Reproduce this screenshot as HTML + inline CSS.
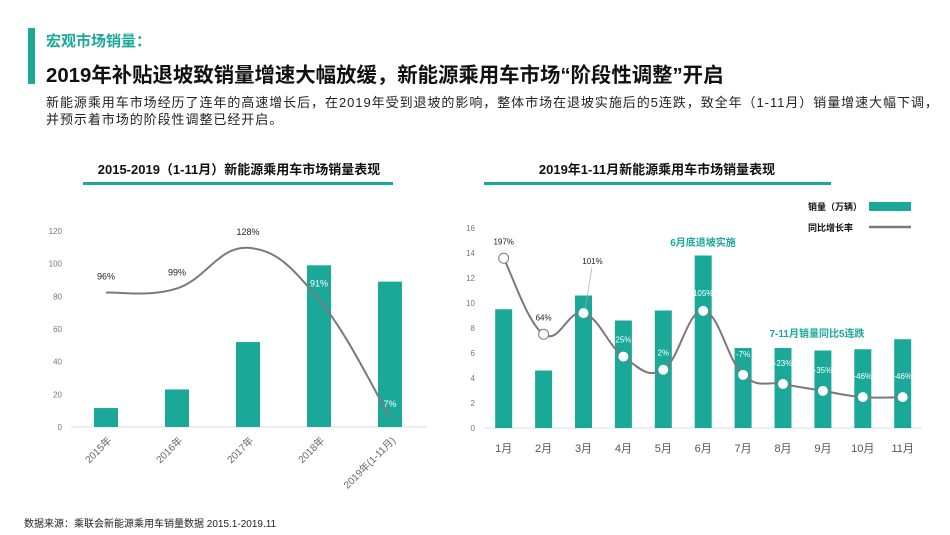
<!DOCTYPE html>
<html><head><meta charset="utf-8">
<style>
body{margin:0;width:950px;height:535px;background:#fff;font-family:"Liberation Sans","Noto Sans CJK SC",sans-serif;position:relative;overflow:hidden}
.abs{position:absolute;white-space:nowrap}
</style></head><body>
<div class="abs" style="left:28px;top:28px;width:7px;height:56px;background:#1aa898"></div>
<div class="abs" style="left:46px;top:30px;font-size:15px;font-weight:bold;color:#1aa898">宏观市场销量：</div>
<div class="abs" style="left:46px;top:58px;font-size:20.4px;font-weight:bold;color:#111">2019年补贴退坡致销量增速大幅放缓，新能源乘用车市场“阶段性调整”开启</div>
<div class="abs" style="left:46px;top:94px;font-size:13px;letter-spacing:0.95px;line-height:17px;color:#222">新能源乘用车市场经历了连年的高速增长后，在2019年受到退坡的影响，整体市场在退坡实施后的5连跌，致全年（1-11月）销量增速大幅下调，<br>并预示着市场的阶段性调整已经开启。</div>
<div class="abs" style="left:24px;top:515px;font-size:10px;color:#222">数据来源：乘联会新能源乘用车销量数据 2015.1-2019.11</div>

<svg id="c" width="950" height="535" style="position:absolute;left:0;top:0"></svg>
<script>
const yearCats=["2015年","2016年","2017年","2018年","2019年(1-11月)"];
const yearSales=[11.6,23,52,99,89];
const yearGrowth=[96,99,128,91,7];
const yearGrowthLabels=["96%","99%","128%","91%","7%"];
const leftTicks=[0,20,40,60,80,100,120];

const monthCats=["1月","2月","3月","4月","5月","6月","7月","8月","9月","10月","11月"];
const monthSales=[9.5,4.6,10.6,8.6,9.4,13.8,6.4,6.4,6.2,6.3,7.1];
const monthGrowth=[197,64,101,25,2,105,-7,-23,-35,-46,-46];
const monthGrowthLabels=["197%","64%","101%","25%","2%","105%","-7%","-23%","-35%","-46%","-46%"];
const rightTicks=[0,2,4,6,8,10,12,14,16];

const svg=document.getElementById('c');const NS="http://www.w3.org/2000/svg";
function mk(t,a,name,txt){const e=document.createElementNS(NS,t);for(const k in a)e.setAttribute(k,a[k]);


if(txt!==undefined)e.textContent=txt;svg.appendChild(e);return e;}
const TEAL="#1aa898",GREY="#7a7a7a";
function smooth(pts){let d="M"+pts[0][0]+","+pts[0][1];for(let i=0;i<pts.length-1;i++){const p0=pts[i-1]||pts[i],p1=pts[i],p2=pts[i+1],p3=pts[i+2]||p2;const t=0.2;
d+=" C"+(p1[0]+(p2[0]-p0[0])*t)+","+(p1[1]+(p2[1]-p0[1])*t)+" "+(p2[0]-(p3[0]-p1[0])*t)+","+(p2[1]-(p3[1]-p1[1])*t)+" "+p2[0]+","+p2[1];}return d;}

mk('text',{x:239,y:174,'font-size':13,'font-weight':'bold','text-anchor':'middle',fill:'#111'},'left-chart-title',"2015-2019（1-11月）新能源乘用车市场销量表现");
mk('rect',{x:83,y:182,width:310,height:3,fill:TEAL},'left-title-underline');
mk('text',{x:657,y:174,'font-size':13,'font-weight':'bold','text-anchor':'middle',fill:'#111'},'right-chart-title',"2019年1-11月新能源乘用车市场销量表现");
mk('rect',{x:484,y:182,width:347,height:3,fill:TEAL},'right-title-underline');

const Ly0=427,Lh=196;
const ly=v=>Ly0-v/120*Lh, lg=r=>Ly0-r/140*Lh, lx=i=>106+i*71;
leftTicks.forEach(t=>mk('text',{x:62,y:ly(t)+3,'font-size':8,fill:'#777','text-anchor':'end'},'left-y-tick',t));
mk('line',{x1:71,x2:427,y1:Ly0,y2:Ly0,stroke:'#ddd'},'left-x-axis');
yearSales.forEach((v,i)=>mk('rect',{x:lx(i)-12,y:ly(v),width:24,height:Ly0-ly(v),fill:TEAL},'bar-'+i));
yearCats.forEach((c,i)=>mk('text',{x:lx(i)+6,y:Ly0+14,'font-size':10,fill:'#666','text-anchor':'end',transform:`rotate(-45 ${lx(i)+6} ${Ly0+14})`},'left-x-label',c));
mk('path',{d:smooth(yearGrowth.map((r,i)=>[lx(i),lg(r)])),fill:'none',stroke:GREY,'stroke-width':2},'left-growth-line');
yearGrowth.forEach((r,i)=>{const inBar=i>=3;mk('text',{x:lx(i),y:lg(r)+(i==4?-10:-13),'font-size':9,'text-anchor':'middle',fill:inBar?'#fff':'#222'},'left-growth-label',yearGrowthLabels[i]);});

const Ry0=428,Rh=200;
const ry=v=>Ry0-v/16*Rh, rg=r=>Ry0-(r+100)/350*Rh, rx=i=>503.7+i*39.9;
rightTicks.forEach(t=>mk('text',{x:475,y:ry(t)+3,'font-size':8,fill:'#777','text-anchor':'end'},'right-y-tick',t));
mk('line',{x1:484,x2:922,y1:Ry0,y2:Ry0,stroke:'#ddd'},'right-x-axis');
monthSales.forEach((v,i)=>mk('rect',{x:rx(i)-8.5,y:ry(v),width:17,height:Ry0-ry(v),fill:TEAL},'month-bar-'+i));
monthCats.forEach((c,i)=>mk('text',{x:rx(i),y:Ry0+24,'font-size':11,fill:'#555','text-anchor':'middle'},'right-x-label',c));
mk('path',{d:smooth(monthGrowth.map((r,i)=>[rx(i),rg(r)])),fill:'none',stroke:GREY,'stroke-width':2},'right-growth-line');
mk('line',{x1:592,y1:267,x2:585,y2:310,stroke:'#aaa','stroke-width':0.7},'label-leader');
monthGrowth.forEach((r,i)=>{
 mk('circle',{cx:rx(i),cy:rg(r),r:5,fill:'#fff',stroke:i<2?GREY:'none','stroke-width':1},'growth-point-'+i);
 let dy=-14,col='#fff',dx=0;
 if(i==0){dy=-14;col='#222';} if(i==1){dy=-14;col='#222';} if(i==2){dy=-49;col='#222';dx=9;}
 if(i==5)dy=-15;
 if(i>=6){dy=-18;}
 mk('text',{x:rx(i)+dx,y:rg(r)+dy,'font-size':8,'text-anchor':'middle',fill:col},'growth-label-'+i,monthGrowthLabels[i]);
});
mk('text',{x:703,y:246,'font-size':10,'font-weight':'bold','text-anchor':'middle',fill:TEAL},'annotation-subsidy',"6月底退坡实施");
mk('text',{x:817,y:337,'font-size':10,'font-weight':'bold','text-anchor':'middle',fill:TEAL},'annotation-decline',"7-11月销量同比5连跌");
mk('text',{x:808,y:210,'font-size':9,'font-weight':'bold',fill:'#111'},'legend-sales-label',"销量（万辆）");
mk('rect',{x:869,y:202,width:42,height:9,fill:TEAL},'legend-sales-swatch');
mk('text',{x:808,y:231,'font-size':9,'font-weight':'bold',fill:'#111'},'legend-growth-label',"同比增长率");
mk('line',{x1:869,x2:911,y1:227,y2:227,stroke:GREY,'stroke-width':2.5},'legend-growth-swatch');
</script>
</body></html>
